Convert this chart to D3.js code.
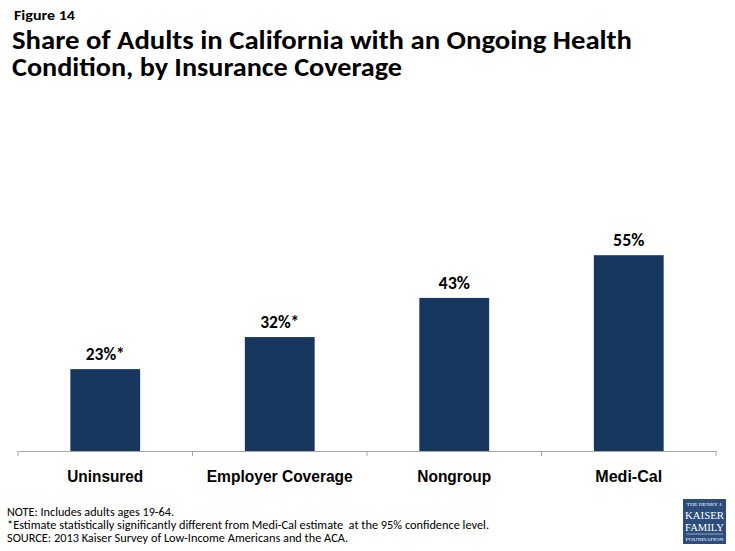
<!DOCTYPE html>
<html>
<head>
<meta charset="utf-8">
<script src="https://cdn.jsdelivr.net/npm/d3@7"></script>
<style>
  body { margin: 0; background: #fff; }
  svg { display: block; font-family: Carlito, Calibri, Lato, "Open Sans", sans-serif; }
  .note { white-space: pre; }
</style>
</head>
<body>
<svg id="chart"></svg>
<script>
(function() {

    const categories = ['Uninsured', 'Employer Coverage', 'Nongroup', 'Medi-Cal'];
    const values = [23, 32, 43, 55];
    const valueLabels = ['23%*', '32%*', '43%', '55%'];
    const notes = [
        'NOTE: Includes adults ages 19-64.',
        '*Estimate statistically significantly different from Medi-Cal estimate  at the 95% confidence level.',
        'SOURCE: 2013 Kaiser Survey of Low-Income Americans and the ACA.'
    ];

    const w = 735;
    const h = 551;
    const barColor = '#17375e';

    const svg = d3.select('#chart')
        .attr('width', w)
        .attr('height', h);

    // stretch / squeeze a text node to the width it has in the reference
    const fitTo = (node, width) => {
        if (Math.abs(node.getComputedTextLength() - width) > 1) {
            d3.select(node).attr('textLength', width).attr('lengthAdjust', 'spacingAndGlyphs');
        }
    };

    // Title
    svg.append('text')
        .attr('x', 14).attr('y', 19.5)
        .attr('font-size', 14).attr('font-weight', 'bold')
        .text('Figure 14')
        .each(function() { fitTo(this, 61); });

    const titleLines = ['Share of Adults in California with an Ongoing Health', 'Condition, by Insurance Coverage'];
    const titleWidths = [620, 390];
    svg.selectAll('.title')
        .data(titleLines)
        .enter()
        .append('text')
        .attr('class', 'title')
        .attr('x', 12)
        .attr('y', (d, i) => 49 + i * 27)
        .attr('font-size', 26.5).attr('font-weight', 'bold')
        .text(d => d)
        .each(function(d, i) { fitTo(this, titleWidths[i]); });

    // Scales
    const x = d3.scaleBand()
        .domain(categories)
        .range([18, 716])
        .paddingInner(0.6)
        .paddingOuter(0.3);

    const y = d3.scaleLinear()
        .domain([0, 60])
        .range([451, 237.4]);

    // Bars
    svg.selectAll('.bar')
        .data(values)
        .enter()
        .append('rect')
        .attr('class', 'bar')
        .attr('x', (d, i) => x(categories[i]))
        .attr('y', d => y(d))
        .attr('width', x.bandwidth())
        .attr('height', d => y(0) - y(d))
        .attr('fill', barColor);

    const valueWidths = [39, 39, 31, 31.5];
    svg.selectAll('.val')
        .data(values)
        .enter()
        .append('text')
        .attr('class', 'val')
        .attr('x', (d, i) => x(categories[i]) + x.bandwidth() / 2)
        .attr('y', d => y(d) - 9)
        .attr('text-anchor', 'middle')
        .attr('font-size', 18).attr('font-weight', 'bold')
        .text((d, i) => valueLabels[i])
        .each(function(d, i) { fitTo(this, valueWidths[i]); });

    // Axis
    const axis = svg.append('g')
        .attr('transform', `translate(0, ${ y(0) })`)
        .call(d3.axisBottom(x).tickSize(0).tickPadding(0));

    axis.select('.domain').attr('stroke', '#a6a6a6');

    const labelWidths = [76, 146, 74, 67];
    axis.selectAll('.tick text')
        .attr('y', 30.5).attr('dy', 0)
        .attr('fill', '#000')
        .attr('font-family', null)
        .attr('font-size', 16.5).attr('font-weight', 'bold')
        .each(function(d, i) { fitTo(this, labelWidths[i]); });

    const bounds = categories.map(c => x(c) - x.step() * x.paddingInner() / 2);
    bounds[0] = x.range()[0];
    bounds.push(x.range()[1]);
    axis.selectAll('.bound')
        .data(bounds)
        .enter()
        .append('line')
        .attr('class', 'bound')
        .attr('x1', d => d).attr('x2', d => d)
        .attr('y1', 0).attr('y2', 5)
        .attr('stroke', '#a6a6a6');

    // Notes
    const noteWidths = [167, 482, 341];
    svg.selectAll('.note')
        .data(notes)
        .enter()
        .append('text')
        .attr('class', 'note')
        .attr('x', 7)
        .attr('y', (d, i) => 515.5 + i * 13)
        .attr('font-size', 12)
        .text(d => d)
        .each(function(d, i) { fitTo(this, noteWidths[i]); });

    // Logo
    const logo = svg.append('g')
        .attr('transform', 'translate(683, 499)')
        .attr('font-family', '"Liberation Serif", "DejaVu Serif", serif')
        .attr('fill', '#fff')
        .attr('text-anchor', 'middle');

    logo.append('rect')
        .attr('width', 43).attr('height', 45)
        .attr('fill', '#2c4c7c');

    const logoText = [
        { t: 'THE HENRY J.', y: 7, s: 4.5, w: 36 },
        { t: 'KAISER', y: 19.5, s: 10.5, w: 39 },
        { t: 'FAMILY', y: 31.5, s: 10.5, w: 39 },
        { t: 'FOUNDATION', y: 41.5, s: 4.5, w: 38 }
    ];
    logo.selectAll('text')
        .data(logoText)
        .enter()
        .append('text')
        .attr('x', 21.5)
        .attr('y', d => d.y)
        .attr('font-size', d => d.s)
        .attr('textLength', d => d.w)
        .attr('lengthAdjust', 'spacingAndGlyphs')
        .text(d => d.t);

    logo.append('line')
        .attr('x1', 3).attr('x2', 40)
        .attr('y1', 35).attr('y2', 35)
        .attr('stroke', '#fff').attr('stroke-width', 0.5);

})();
</script>
</body>
</html>
